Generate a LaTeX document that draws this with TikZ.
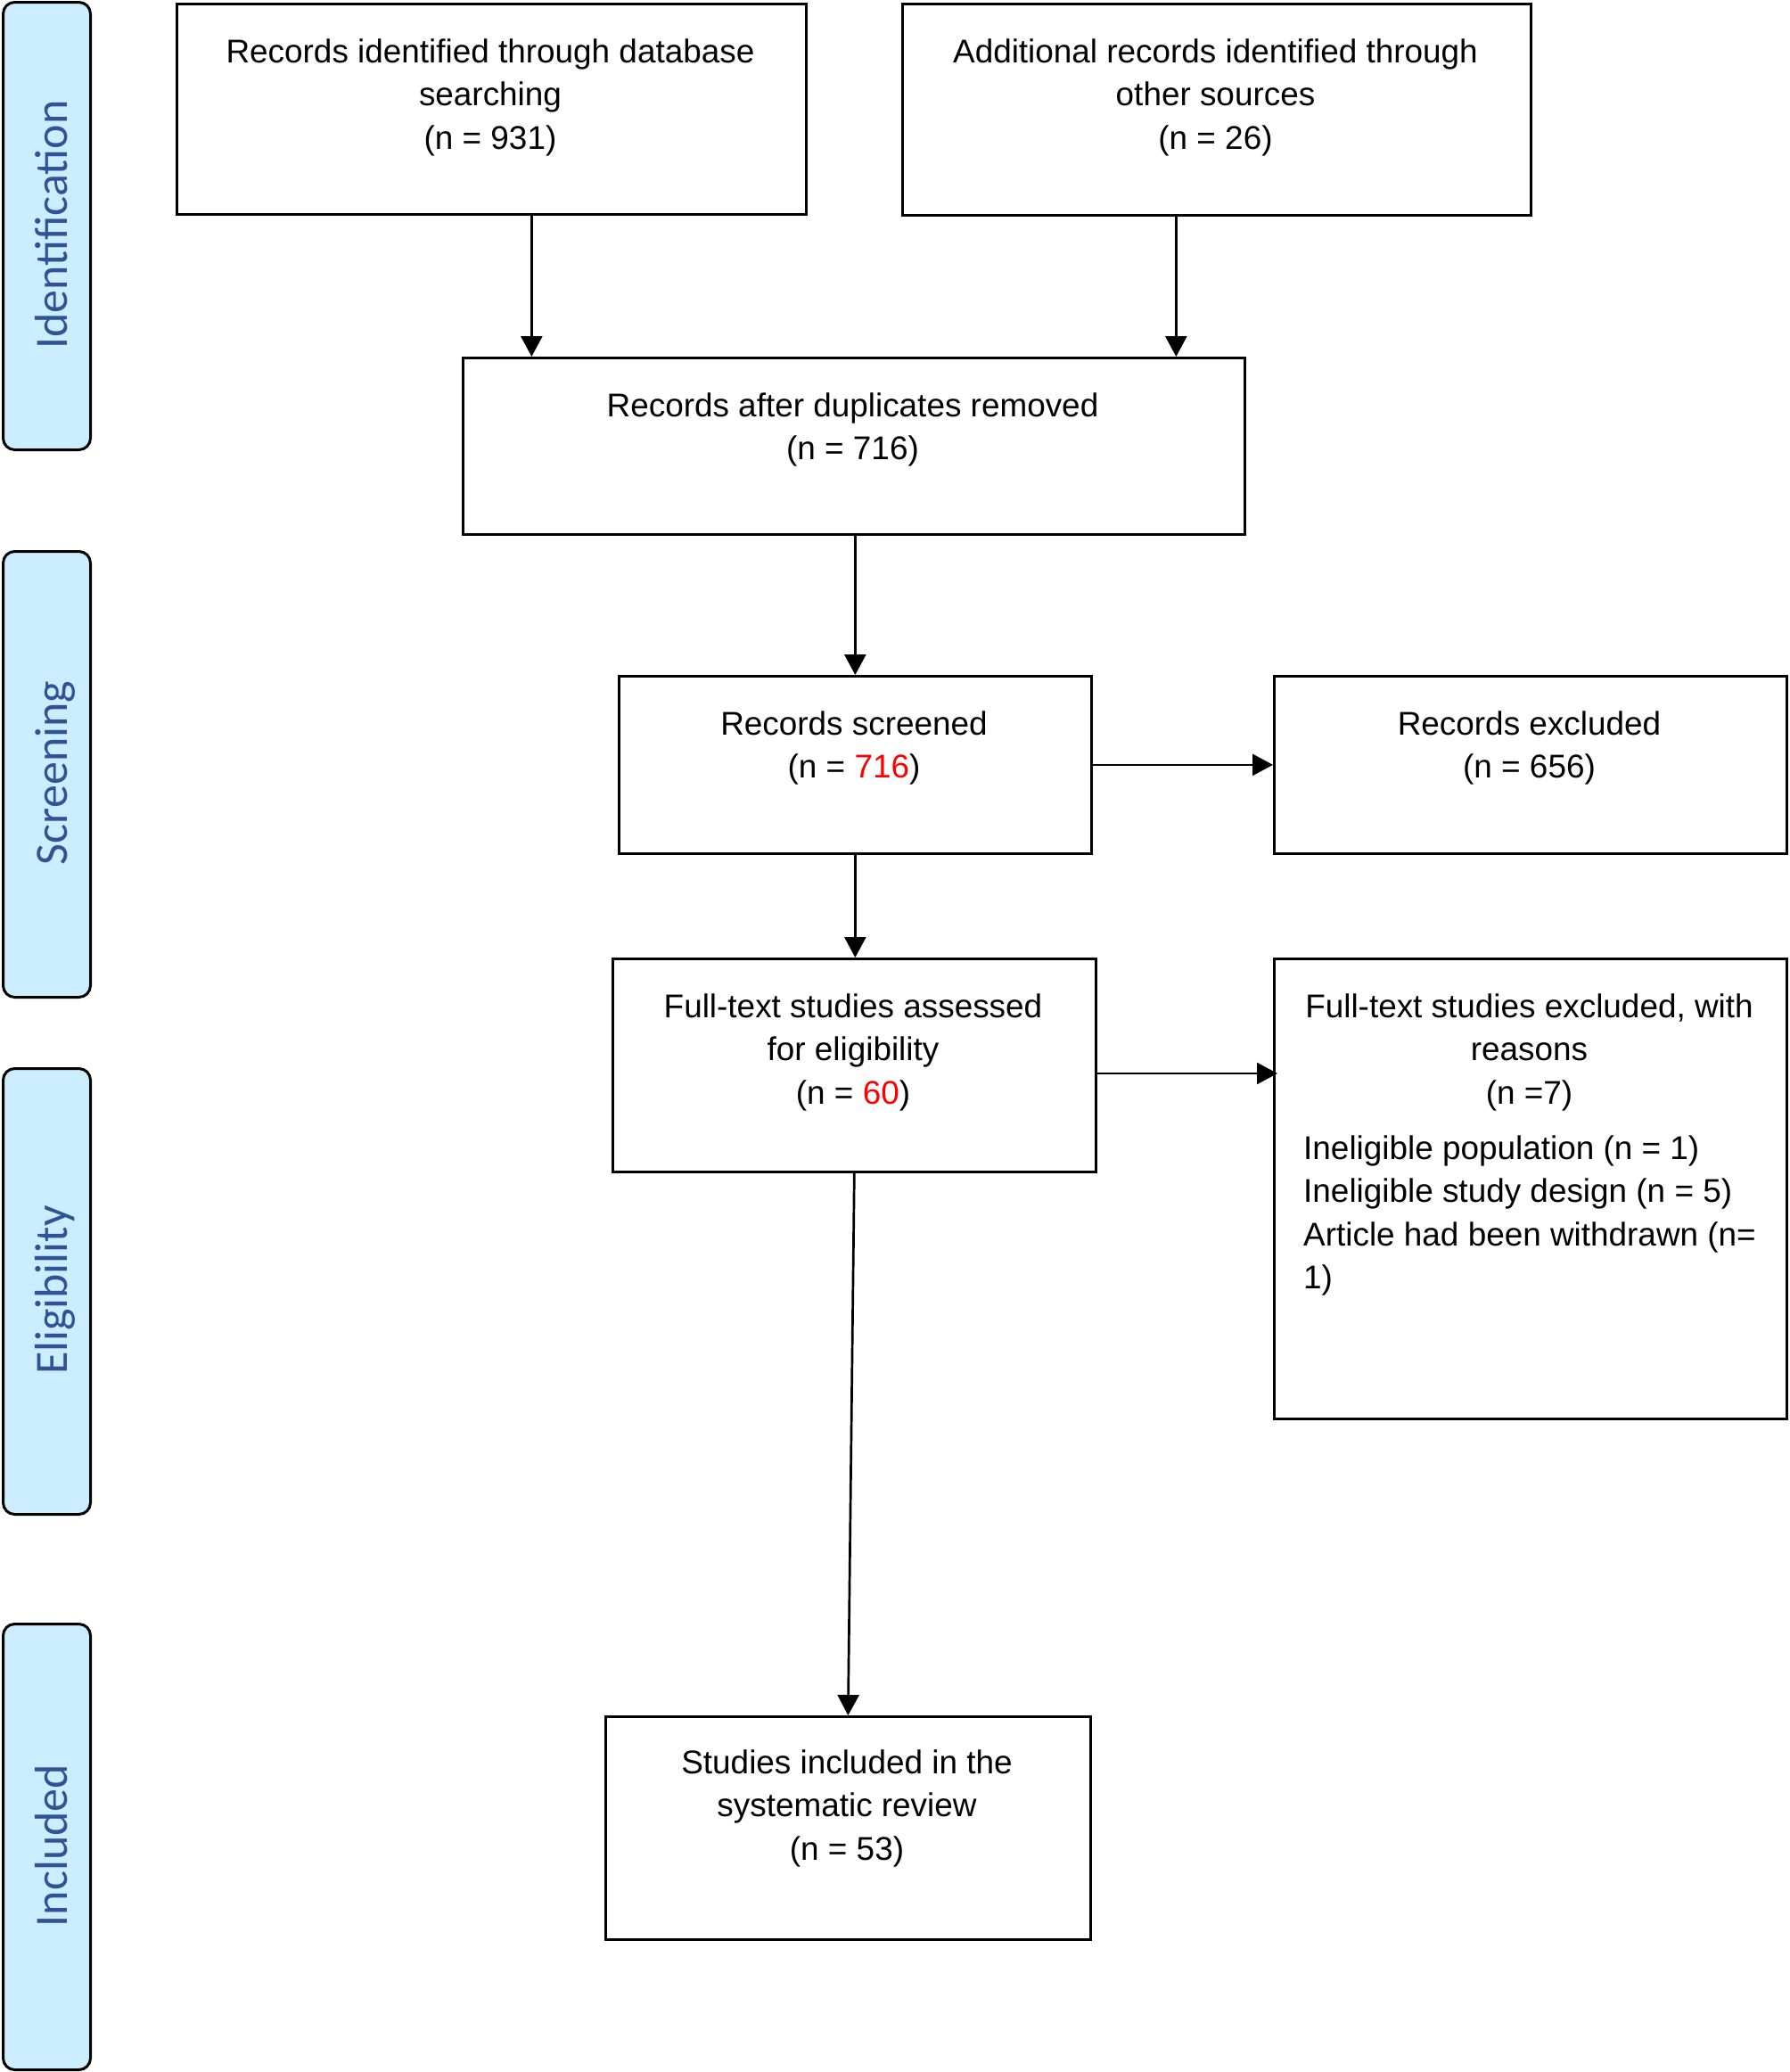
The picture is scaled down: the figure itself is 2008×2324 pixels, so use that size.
\documentclass[tikz,border=0pt]{standalone}
\usepackage{fontspec}
\setmainfont{Liberation Sans}
\newfontfamily\sidefont{Carlito}
\usetikzlibrary{arrows.meta}
\definecolor{sidefill}{RGB}{204,236,255}
\definecolor{sidetext}{RGB}{47,84,150}
\definecolor{numred}{RGB}{255,0,0}
\newcommand\firststrut{\rule{0pt}{30pt}}
\begin{document}
\begin{tikzpicture}[x=1pt,y=-1pt,
 box/.style={draw=black, line width=2.7pt, fill=white, inner sep=0pt, anchor=north west},
 phase/.style={draw=black, line width=3pt, fill=sidefill, rounded corners=13pt, inner sep=0pt, anchor=north west, minimum width=98pt, minimum height=500pt},
 phasetxt/.style={rotate=90, anchor=base, text=sidetext, font=\sidefont\fontsize{52}{60}\selectfont, inner sep=0pt},
 txt/.style={align=center, anchor=north, inner sep=0pt, font=\fontsize{36.9}{48.5}\selectfont},
 listtxt/.style={align=left, anchor=north west, inner sep=0pt, font=\fontsize{36.9}{48.5}\selectfont},
 arr/.style={line width=2.7pt, -{Triangle[length=23pt,width=24pt]}},
]
\useasboundingbox (0,0) rectangle (2008,2324);

% phase bars
\node[phase, minimum height=502pt] (pid) at (2,1) {};
\node[phase] (pscr) at (2,617) {};
\node[phase] (pel) at (2,1197) {};
\node[phase] (pinc) at (2,1820) {};
\node[phasetxt] (tid) at (75,252) {Identification};
\node[phasetxt] (tscr) at (75,867) {Screening};
\node[phasetxt] (tel) at (75,1447) {Eligibility};
\node[phasetxt] (tinc) at (75,2070) {Included};

% boxes
\node[box, minimum width=706pt, minimum height=236pt] (b1) at (197,3) {};
\node[box, minimum width=705pt, minimum height=237pt] (b2) at (1011,3) {};
\node[box, minimum width=877pt, minimum height=198pt] (dup) at (518,400) {};
\node[box, minimum width=530pt, minimum height=199pt] (scr) at (693,757) {};
\node[box, minimum width=575pt, minimum height=199pt] (exc) at (1428,757) {};
\node[box, minimum width=542pt, minimum height=239pt] (ft) at (686,1074) {};
\node[box, minimum width=575pt, minimum height=516pt] (ex2) at (1428,1074) {};
\node[box, minimum width=544pt, minimum height=250pt] (inc) at (678,1924) {};

% texts
\node[txt] (t1) at (550,40) {\firststrut Records identified through database\\searching\\(n = 931)};
\node[txt] (t2) at (1363.5,40) {\firststrut Additional records identified through\\other sources\\(n = 26)};
\node[txt] (t3) at (956.5,437) {\firststrut Records after duplicates removed\\(n = 716)};
\node[txt] (t4) at (958,794) {\firststrut Records screened\\(n = \textcolor{numred}{716})};
\node[txt] (t5) at (1715.5,794) {\firststrut Records excluded\\(n = 656)};
\node[txt] (t6) at (957,1111) {\firststrut Full-text studies assessed\\for eligibility\\(n = \textcolor{numred}{60})};
\node[txt] (t7) at (1715.5,1111) {\firststrut Full-text studies excluded, with\\reasons\\(n =7)};
\node[listtxt] (t8) at (1462,1270) {\firststrut Ineligible population (n = 1)\\Ineligible study design (n = 5)\\Article had been withdrawn (n=\\1)};
\node[txt] (t9) at (950,1959) {\firststrut Studies included in the\\systematic review\\(n = 53)};

% connectors
\draw[arr] ([xshift=45pt]b1.south) -- ([xshift=45pt]b1.south |- dup.north);
\draw[arr] ([xshift=-45.5pt]b2.south) -- ([xshift=-45.5pt]b2.south |- dup.north);
\draw[arr] (dup.south -| scr.north) -- (scr.north);
\draw[arr] (scr.south) -- (scr.south |- ft.north);
\draw[arr] (scr.east) -- (exc.west);
\coordinate (tip5) at (1433,1204);
\draw[arr] (ft.east |- tip5) -- (tip5);
\draw[arr] (ft.south) -- (inc.north);
\end{tikzpicture}
\end{document}
